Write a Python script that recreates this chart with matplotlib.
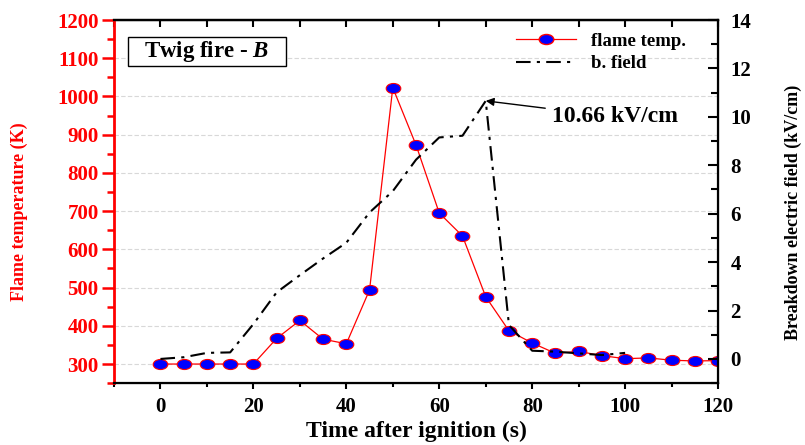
import matplotlib.pyplot as plt
from matplotlib.path import Path
from matplotlib.patches import Rectangle
from matplotlib.transforms import Affine2D
from matplotlib.lines import Line2D
from matplotlib.ticker import MultipleLocator

plt.rcParams['font.family'] = ['Liberation Serif', 'DejaVu Serif']
plt.rcParams['font.weight'] = 'bold'
plt.rcParams['axes.labelweight'] = 'bold'
plt.rcParams['mathtext.fontset'] = 'custom'
plt.rcParams['mathtext.it'] = 'Liberation Serif:italic:bold'

# flame temperature (K), every 5 s
t_temp = [0, 5, 10, 15, 20, 25, 30, 35, 40, 45, 50, 55, 60, 65, 70, 75, 80,
          85, 90, 95, 100, 105, 110, 115, 120]
temp = [300, 300, 300, 300, 300, 367, 414, 365, 353, 494, 1023, 873, 695,
        635, 476, 387, 355, 328, 333, 322, 314, 316, 310, 308, 309]

# breakdown electric field (kV/cm)
t_field = [0, 5, 10, 15, 20, 25, 30, 35, 40, 45, 50, 55, 60, 65, 70, 75, 80,
           85, 90, 95, 100]
field = [0.0, 0.07, 0.25, 0.27, 1.44, 2.75, 3.46, 4.15, 4.8, 6.05, 6.93,
         8.23, 9.15, 9.22, 10.66, 1.4, 0.34, 0.3, 0.23, 0.16, 0.25]

peak_label = '10.66 kV/cm'

# elliptical marker, a bit wider than tall
ellipse = Path.unit_circle().transformed(Affine2D().scale(1.45, 1.0))

fig = plt.figure(figsize=(8.05, 4.45), dpi=100)
ax1 = fig.add_axes([0.1416, 0.139, 0.7504, 0.816])
ax2 = ax1.twinx()

ax1.plot(t_temp, temp, color='red', lw=0.9, marker=ellipse, markersize=10.5,
         markerfacecolor='blue', markeredgecolor='red', markeredgewidth=0.8,
         zorder=3)
ax2.plot(t_field, field, color='black', lw=1.5, ls=(0, (7, 3, 1.5, 3)))

ax1.set_xlim(-10, 120)
ax1.set_ylim(250, 1200)
ax2.set_ylim(-1, 14)

ax1.xaxis.set_major_locator(MultipleLocator(20))
ax1.xaxis.set_minor_locator(MultipleLocator(10))
ax1.yaxis.set_major_locator(MultipleLocator(100))
ax1.yaxis.set_minor_locator(MultipleLocator(50))
ax2.yaxis.set_major_locator(MultipleLocator(2))
ax2.yaxis.set_minor_locator(MultipleLocator(1))

ax1.grid(axis='y', which='major', color='#d8d8d8', ls=(0, (4, 2)), lw=0.8)
ax1.set_axisbelow(True)

for sp in ['top', 'bottom']:
    ax1.spines[sp].set_linewidth(1.6)
ax1.spines['left'].set_color('red')
ax1.spines['left'].set_linewidth(2)
ax2.spines['right'].set_linewidth(1.6)
ax2.spines['left'].set_visible(False)

ax1.tick_params(axis='x', which='major', direction='out', length=4, width=1.5,
                labelsize=15, pad=6)
ax1.tick_params(axis='x', which='minor', direction='out', length=3, width=1.5)
ax1.tick_params(axis='y', which='major', direction='out', length=9, width=1.8,
                color='red', labelcolor='red', labelsize=15, pad=2)
ax1.tick_params(axis='y', which='minor', direction='out', length=5, width=1.8,
                color='red')
ax2.tick_params(axis='y', which='major', direction='in', length=7, width=1.5,
                labelsize=15, pad=9)
ax2.tick_params(axis='y', which='minor', direction='in', length=5, width=1.5)

top = ax1.secondary_xaxis('top')
top.xaxis.set_major_locator(MultipleLocator(20))
top.xaxis.set_minor_locator(MultipleLocator(10))
top.tick_params(axis='x', which='both', direction='in', length=5, width=1.5,
                labeltop=False)
top.spines['top'].set_linewidth(1.6)

ax1.set_xlabel('Time after ignition (s)', fontsize=17, labelpad=3)
ax1.set_ylabel('Flame temperature (K)', fontsize=13, color='red')
ax1.yaxis.set_label_coords(-0.142, 0.471)
ax2.set_ylabel('Breakdown electric field (kV/cm)', fontsize=13)
ax2.yaxis.set_label_coords(1.111, 0.471)

# caption box in the upper left corner
ax1.add_patch(Rectangle((0.0227, 0.873), 0.2616, 0.081, transform=ax1.transAxes,
                        fc='white', ec='black', lw=1, zorder=5))
ax1.text(0.1535, 0.912, 'Twig fire - $B$', transform=ax1.transAxes,
         fontsize=16.5, ha='center', va='center', zorder=6)

ax2.annotate(peak_label, xy=(70, 10.66), xytext=(84.3, 10.0), fontsize=17,
             ha='left', va='center',
             arrowprops=dict(arrowstyle='-|>', color='black', lw=1,
                             mutation_scale=12, shrinkA=3, shrinkB=0))

handles = [Line2D([], [], color='red', lw=0.9, marker=ellipse, markersize=10.5,
                  markerfacecolor='blue', markeredgecolor='red'),
           Line2D([], [], color='black', lw=1.5, ls=(0, (7, 3, 1.5, 3)))]
ax2.legend(handles, ['flame temp.', 'b. field'], loc='upper right',
           bbox_to_anchor=(0.975, 1.012), frameon=False, fontsize=13.5,
           handlelength=3.2, labelspacing=0.3, handletextpad=0.8)

fig.savefig('out.png', dpi=100)
